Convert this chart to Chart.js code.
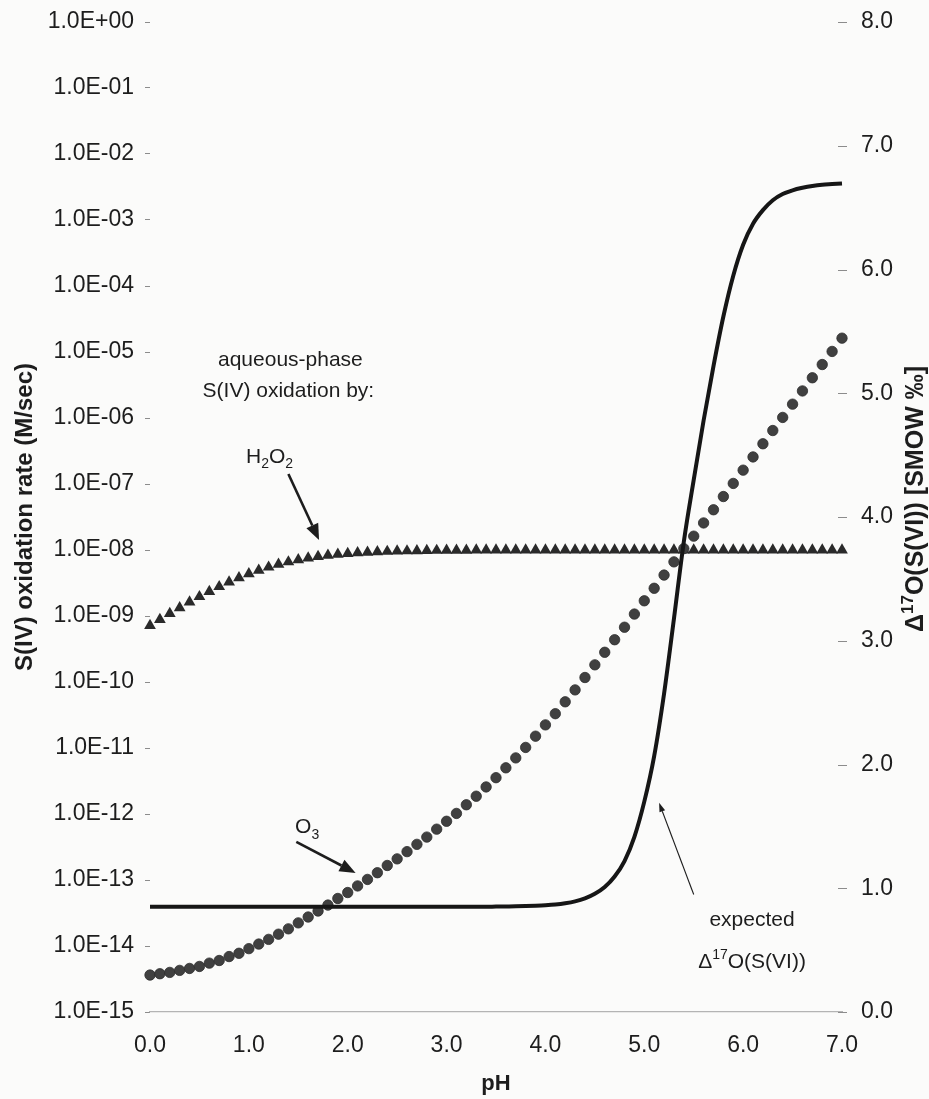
<!DOCTYPE html>
<html>
<head>
<meta charset="utf-8">
<title>S(IV) oxidation rate and expected Δ17O(S(VI)) versus pH</title>
<script src="https://cdn.jsdelivr.net/npm/chart.js@4.4.0/dist/chart.umd.min.js"></script>
<style>
  html, body { margin: 0; padding: 0; background: #fbfbfa; }
  canvas { display: block; }
</style>
</head>
<body>
<canvas id="chart" width="929" height="1099"></canvas>
<script>
// pH grid shared by all three series
const pH = [
  0.0, 0.1, 0.2, 0.3, 0.4, 0.5, 0.6, 0.7, 0.8, 0.9,
  1.0, 1.1, 1.2, 1.3, 1.4, 1.5, 1.6, 1.7, 1.8, 1.9,
  2.0, 2.1, 2.2, 2.3, 2.4, 2.5, 2.6, 2.7, 2.8, 2.9,
  3.0, 3.1, 3.2, 3.3, 3.4, 3.5, 3.6, 3.7, 3.8, 3.9,
  4.0, 4.1, 4.2, 4.3, 4.4, 4.5, 4.6, 4.7, 4.8, 4.9,
  5.0, 5.1, 5.2, 5.3, 5.4, 5.5, 5.6, 5.7, 5.8, 5.9,
  6.0, 6.1, 6.2, 6.3, 6.4, 6.5, 6.6, 6.7, 6.8, 6.9,
  7.0
];

// aqueous S(IV) oxidation rate by H2O2 (M/sec)
const h2o2Rate = [
  7.14e-10, 8.83e-10, 1.09e-9, 1.33e-9, 1.62e-9, 1.96e-9, 2.34e-9, 2.78e-9, 3.27e-9, 3.79e-9,
  4.35e-9, 4.92e-9, 5.49e-9, 6.05e-9, 6.59e-9, 7.09e-9, 7.54e-9, 7.94e-9, 8.29e-9, 8.59e-9,
  8.85e-9, 9.06e-9, 9.24e-9, 9.39e-9, 9.51e-9, 9.61e-9, 9.68e-9, 9.75e-9, 9.80e-9, 9.84e-9,
  9.87e-9, 9.90e-9, 9.92e-9, 9.94e-9, 9.95e-9, 9.96e-9, 9.97e-9, 9.97e-9, 9.98e-9, 9.98e-9,
  9.99e-9, 9.99e-9, 9.99e-9, 9.99e-9, 9.99e-9, 1.00e-8, 1.00e-8, 1.00e-8, 1.00e-8, 1.00e-8,
  1.00e-8, 1.00e-8, 1.00e-8, 1.00e-8, 1.00e-8, 1.00e-8, 1.00e-8, 1.00e-8, 1.00e-8, 1.00e-8,
  1.00e-8, 1.00e-8, 1.00e-8, 1.00e-8, 1.00e-8, 1.00e-8, 1.00e-8, 1.00e-8, 1.00e-8, 1.00e-8,
  1.00e-8
];

// aqueous S(IV) oxidation rate by O3 (M/sec)
const o3Rate = [
  3.63e-15, 3.80e-15, 3.98e-15, 4.27e-15, 4.57e-15, 4.90e-15, 5.50e-15, 6.03e-15, 6.92e-15, 7.76e-15,
  9.12e-15, 1.07e-14, 1.26e-14, 1.51e-14, 1.82e-14, 2.24e-14, 2.75e-14, 3.39e-14, 4.17e-14, 5.25e-14,
  6.46e-14, 8.13e-14, 1.02e-13, 1.29e-13, 1.66e-13, 2.09e-13, 2.69e-13, 3.47e-13, 4.47e-13, 5.89e-13,
  7.76e-13, 1.02e-12, 1.38e-12, 1.86e-12, 2.57e-12, 3.55e-12, 5.01e-12, 7.08e-12, 1.02e-11, 1.51e-11,
  2.24e-11, 3.31e-11, 5.01e-11, 7.59e-11, 1.17e-10, 1.82e-10, 2.82e-10, 4.37e-10, 6.76e-10, 1.07e-9,
  1.70e-9, 2.63e-9, 4.17e-9, 6.61e-9, 1.05e-8, 1.62e-8, 2.57e-8, 4.07e-8, 6.46e-8, 1.02e-7,
  1.62e-7, 2.57e-7, 4.07e-7, 6.46e-7, 1.02e-6, 1.62e-6, 2.57e-6, 4.07e-6, 6.46e-6, 1.02e-5,
  1.62e-5
];

// expected Δ17O of the sulfate formed (‰ vs SMOW)
const delta17O = [
  0.85, 0.85, 0.85, 0.85, 0.85, 0.85, 0.85, 0.85, 0.85, 0.85,
  0.85, 0.85, 0.85, 0.85, 0.85, 0.85, 0.85, 0.85, 0.85, 0.85,
  0.85, 0.85, 0.85, 0.85, 0.85, 0.85, 0.85, 0.85, 0.85, 0.85,
  0.85, 0.85, 0.85, 0.85, 0.85, 0.852, 0.853, 0.854, 0.856, 0.859,
  0.863, 0.869, 0.879, 0.894, 0.918, 0.955, 1.010, 1.095, 1.220, 1.416,
  1.700, 2.068, 2.572, 3.178, 3.80, 4.30, 4.78, 5.22, 5.62, 5.95,
  6.20, 6.37, 6.48, 6.56, 6.61, 6.64, 6.66, 6.675, 6.685, 6.69,
  6.695
];

// axis tick positions
const phTicks = [0, 1, 2, 3, 4, 5, 6, 7];
const rateTickExponents = [0, -1, -2, -3, -4, -5, -6, -7, -8, -9, -10, -11, -12, -13, -14, -15];
const deltaTicks = [0, 1, 2, 3, 4, 5, 6, 7, 8];

const FONT = "'Liberation Sans', Arial, Helvetica, sans-serif";
const INK = '#1d1d1d';
const TICK_SIZE = 23;
const TICK_MARK = '#8c8c8c';

Chart.defaults.font.family = FONT;
Chart.defaults.color = INK;

function expLabel(v) {
  const e = Math.round(Math.log10(v));
  return '1.0E' + (e < 0 ? '-' : '+') + String(Math.abs(e)).padStart(2, '0');
}

// fixed scale box sizes so the plot area stays put whatever the label fonts are
function fixBox(size, key) {
  return s => {
    s[key] = size;
    s.paddingTop = 0;
    s.paddingBottom = 0;
    s.paddingLeft = 0;
    s.paddingRight = 0;
  };
}

// text made of runs; a run may be sub- or superscript
function drawRich(ctx, runs, x, y, size, weight, angle) {
  ctx.save();
  ctx.translate(x, y);
  if (angle) ctx.rotate(angle);
  const fontOf = r => `${weight} ${r.s ? Math.round(size * 0.66) : size}px ${FONT}`;
  let total = 0;
  const widths = runs.map(r => { ctx.font = fontOf(r); const w = ctx.measureText(r.t).width; total += w; return w; });
  let cx = -total / 2;
  ctx.textAlign = 'left';
  ctx.textBaseline = 'alphabetic';
  ctx.fillStyle = INK;
  const base = size * 0.36;
  runs.forEach((r, i) => {
    ctx.font = fontOf(r);
    const dy = r.s === 'sub' ? size * 0.28 : r.s === 'sup' ? -size * 0.42 : 0;
    ctx.fillText(r.t, cx, base + dy);
    cx += widths[i];
  });
  ctx.restore();
}

function drawArrow(ctx, x1, y1, x2, y2, lw, headLen, headW) {
  const a = Math.atan2(y2 - y1, x2 - x1);
  const bx = x2 - headLen * Math.cos(a), by = y2 - headLen * Math.sin(a);
  ctx.save();
  ctx.strokeStyle = INK;
  ctx.fillStyle = INK;
  ctx.lineWidth = lw;
  ctx.beginPath();
  ctx.moveTo(x1, y1);
  ctx.lineTo(bx, by);
  ctx.stroke();
  ctx.beginPath();
  ctx.moveTo(x2, y2);
  ctx.lineTo(bx + headW / 2 * Math.sin(a), by - headW / 2 * Math.cos(a));
  ctx.lineTo(bx - headW / 2 * Math.sin(a), by + headW / 2 * Math.cos(a));
  ctx.closePath();
  ctx.fill();
  ctx.restore();
}

// annotation anchors in data units: x = pH, y on the named axis
const notes = [
  { axis: 'y',  x: 1.42, y: 8.1e-6,  size: 21, runs: [{ t: 'aqueous-phase' }] },
  { axis: 'y',  x: 1.40, y: 2.75e-6, size: 21, runs: [{ t: 'S(IV) oxidation by:' }] },
  { axis: 'y',  x: 1.21, y: 2.75e-7, size: 21, runs: [{ t: 'H' }, { t: '2', s: 'sub' }, { t: 'O' }, { t: '2', s: 'sub' }] },
  { axis: 'y',  x: 1.59, y: 6.6e-13, size: 21, runs: [{ t: 'O' }, { t: '3', s: 'sub' }] },
  { axis: 'y1', x: 6.09, y: 0.76,    size: 21, runs: [{ t: 'expected' }] },
  { axis: 'y1', x: 6.09, y: 0.42,    size: 21, runs: [{ t: 'Δ' }, { t: '17', s: 'sup' }, { t: 'O(S(VI))' }] }
];

const arrows = [
  { axis: 'y',  from: [1.40, 1.42e-7],  to: [1.71, 1.42e-8],  lw: 2.6, head: 16, headW: 13 },
  { axis: 'y',  from: [1.48, 3.77e-13], to: [2.08, 1.28e-13], lw: 2.6, head: 16, headW: 13 },
  { axis: 'y1', from: [5.50, 0.95],     to: [5.15, 1.69],     lw: 1.1, head: 9,  headW: 6 }
];

const decorations = {
  id: 'decorations',
  beforeDraw(chart) {
    const { ctx } = chart;
    ctx.save();
    ctx.fillStyle = '#fbfbfa';
    ctx.fillRect(0, 0, chart.width, chart.height);
    ctx.restore();
  },
  afterDraw(chart) {
    const { ctx, chartArea, scales } = chart;
    const xs = scales.x;

    // right-axis tick marks straddle the plot edge
    ctx.save();
    ctx.strokeStyle = TICK_MARK;
    ctx.lineWidth = 1;
    scales.y1.ticks.forEach(t => {
      const py = Math.round(scales.y1.getPixelForValue(t.value)) + 0.5;
      ctx.beginPath();
      ctx.moveTo(chartArea.right - 4, py);
      ctx.lineTo(chartArea.right + 5, py);
      ctx.stroke();
    });
    ctx.restore();

    arrows.forEach(a => {
      const ys = scales[a.axis];
      drawArrow(ctx,
        xs.getPixelForValue(a.from[0]), ys.getPixelForValue(a.from[1]),
        xs.getPixelForValue(a.to[0]), ys.getPixelForValue(a.to[1]),
        a.lw, a.head, a.headW);
    });

    notes.forEach(n => {
      const ys = scales[n.axis];
      drawRich(ctx, n.runs, xs.getPixelForValue(n.x), ys.getPixelForValue(n.y), n.size, 'normal', 0);
    });

    // axis titles
    const midY = (chartArea.top + chartArea.bottom) / 2;
    drawRich(ctx, [{ t: 'S(IV) oxidation rate (M/sec)' }], 23, midY, 24, 'bold', -Math.PI / 2);
    drawRich(ctx, [{ t: 'Δ' }, { t: '17', s: 'sup' }, { t: 'O(S(VI)) [SMOW ‰]' }], 914, midY - 18, 25, 'bold', -Math.PI / 2);
    drawRich(ctx, [{ t: 'pH' }], (chartArea.left + chartArea.right) / 2, 1082, 22, 'bold', 0);
  }
};

const ctx = document.getElementById('chart').getContext('2d');

new Chart(ctx, {
  type: 'line',
  data: {
    datasets: [
      {
        label: 'expected Δ17O(S(VI))',
        yAxisID: 'y1',
        data: pH.map((x, i) => ({ x, y: delta17O[i] })),
        borderColor: '#161616',
        borderWidth: 4,
        pointRadius: 0,
        fill: false,
        clip: false,
        cubicInterpolationMode: 'monotone'
      },
      {
        label: 'O3',
        yAxisID: 'y',
        data: pH.map((x, i) => ({ x, y: o3Rate[i] })),
        showLine: false,
        clip: false,
        pointStyle: 'circle',
        pointRadius: 5.2,
        pointBackgroundColor: '#404040',
        pointBorderColor: '#2c2c2c',
        pointBorderWidth: 0.8
      },
      {
        label: 'H2O2',
        yAxisID: 'y',
        data: pH.map((x, i) => ({ x, y: h2o2Rate[i] })),
        showLine: false,
        clip: false,
        pointStyle: 'triangle',
        pointRadius: 6.8,
        pointBackgroundColor: '#2a2a2a',
        pointBorderColor: '#2a2a2a',
        pointBorderWidth: 0
      }
    ]
  },
  options: {
    responsive: false,
    animation: false,
    devicePixelRatio: 1,
    layout: { padding: { top: 22, left: 0, right: 0, bottom: 0 } },
    plugins: {
      legend: { display: false },
      tooltip: { enabled: false }
    },
    scales: {
      x: {
        type: 'linear',
        min: 0,
        max: 7,
        afterBuildTicks: s => { s.ticks = phTicks.map(v => ({ value: v })); },
        afterFit: fixBox(87, 'height'),
        ticks: {
          autoSkip: false,
          maxRotation: 0,
          padding: 20,
          font: { size: TICK_SIZE },
          color: INK,
          callback: v => Number(v).toFixed(1)
        },
        grid: { display: false, drawTicks: false },
        border: { display: true, color: '#b4b4b4', width: 1.2, dash: [4, 2] }
      },
      y: {
        type: 'logarithmic',
        position: 'left',
        min: 1e-15,
        max: 1,
        afterBuildTicks: s => { s.ticks = rateTickExponents.map(e => ({ value: Math.pow(10, e) })); },
        afterFit: fixBox(150, 'width'),
        ticks: {
          autoSkip: false,
          padding: 11,
          font: { size: TICK_SIZE },
          color: INK,
          callback: v => expLabel(v)
        },
        grid: { display: true, drawOnChartArea: false, drawTicks: true, tickLength: 5, color: TICK_MARK, lineWidth: 1 },
        border: { display: false }
      },
      y1: {
        type: 'linear',
        position: 'right',
        min: 0,
        max: 8,
        afterBuildTicks: s => { s.ticks = deltaTicks.map(v => ({ value: v })); },
        afterFit: fixBox(87, 'width'),
        ticks: {
          autoSkip: false,
          padding: 19,
          font: { size: TICK_SIZE },
          color: INK,
          callback: v => Number(v).toFixed(1)
        },
        grid: { display: false, drawOnChartArea: false, drawTicks: false },
        border: { display: false }
      }
    }
  },
  plugins: [decorations]
});
</script>
</body>
</html>
